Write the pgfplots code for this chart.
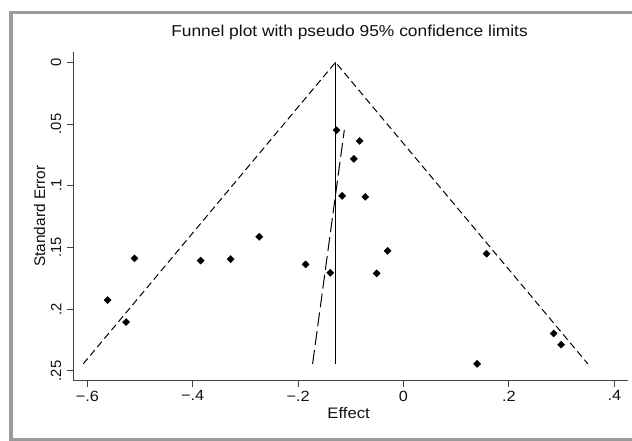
\documentclass[border=0pt]{standalone}
\usepackage{fontspec}
\setmainfont{Liberation Sans}
\usepackage{graphicx}
\usepackage{pgfplots}
\pgfplotsset{compat=1.18}
\usepackage{pgfplotstable}
\definecolor{framegray}{HTML}{9A9A9A}
\definecolor{txt}{HTML}{111111}
\definecolor{axl}{HTML}{444444}
\newcommand{\sx}[1]{\scalebox{1.1}[1]{#1}}

% study effects and standard errors
\pgfplotstableread{
eff se
-0.1270 0.0550
-0.0832 0.0637
-0.0942 0.0782
-0.1165 0.1082
-0.0725 0.1090
-0.2738 0.1413
-0.5105 0.1588
-0.3850 0.1606
-0.3280 0.1594
-0.1858 0.1637
-0.1390 0.1705
-0.0303 0.1527
-0.0510 0.1710
0.1576 0.1550
-0.5615 0.1926
-0.5265 0.2104
0.2850 0.2196
0.2992 0.2287
0.1397 0.2443
}\studies

% pseudo 95% confidence limits
\pgfplotstableread{
eff se
-0.6078 0.2443
-0.1290 0.0000
0.3498 0.2443
}\funnel

\begin{document}
\begin{tikzpicture}[x=1pt,y=1pt]
\useasboundingbox (0,0) rectangle (632,441);
\fill[white] (0,0) rectangle (632,441);
\draw[framegray, line width=3.2pt] (633,428.3) -- (11,428.3) -- (11,1.5) -- (633,1.5);
\begin{axis}[
  at={(73.3pt,60.3pt)}, anchor=south west,
  scale only axis, width=554.7pt, height=329pt,
  xmin=-0.6266, xmax=0.426,
  ymin=-0.2579, ymax=0.0086,
  axis x line*=bottom, axis y line*=left,
  axis line style={axl, line width=0.9pt, -},
  tick align=outside, major tick length=6.5pt,
  tick style={axl, line width=0.9pt},
  xtick={-0.6,-0.4,-0.2,0,0.2,0.4},
  xticklabels={{\sx{−.6}},{\sx{−.4}},{\sx{−.2}},{\sx{0}},{\sx{.2}},{\sx{.4}}},
  ytick={-0.25,-0.2,-0.15,-0.1,-0.05,0},
  yticklabels={.25,.2,.15,.1,.05,0},
  ticklabel style={font=\fontsize{14.8}{16}\selectfont, text=txt},
  yticklabel style={rotate=90, anchor=south},
  yticklabel shift=2pt,
  title={\sx{Funnel plot with pseudo 95\% confidence limits}},
  title style={font=\fontsize{15.8}{18}\selectfont, text=txt, at={(axis description cs:0.498,1.0274)}, anchor=base, inner sep=0pt},
  xlabel={\sx{Effect}},
  xlabel style={font=\fontsize{15.2}{18}\selectfont, text=txt, at={(axis description cs:0.4963,-0.1164)}, anchor=base, inner sep=0pt},
  ylabel={Standard Error},
  ylabel style={font=\fontsize{15.4}{18}\selectfont, text=txt, at={(axis description cs:-0.051,0.5)}, anchor=base, rotate=0, inner sep=0pt},
  clip=false,
]
\addplot[black, line width=1pt, dash pattern=on 7pt off 4pt] table[x=eff, y expr=-\thisrow{se}] {\funnel};
\addplot[black, line width=1pt] coordinates {(-0.1290,0) (-0.1290,-0.2443)};
\addplot[black, line width=1pt, dash pattern=on 14pt off 5pt] coordinates {(-0.1725,-0.2443) (-0.1123,-0.0548)};
\addplot[only marks, mark=square*, mark size=2.5pt, mark options={rotate=45, fill=black, draw=black, solid}] table[x=eff, y expr=-\thisrow{se}] {\studies};
\end{axis}
\end{tikzpicture}
\end{document}
